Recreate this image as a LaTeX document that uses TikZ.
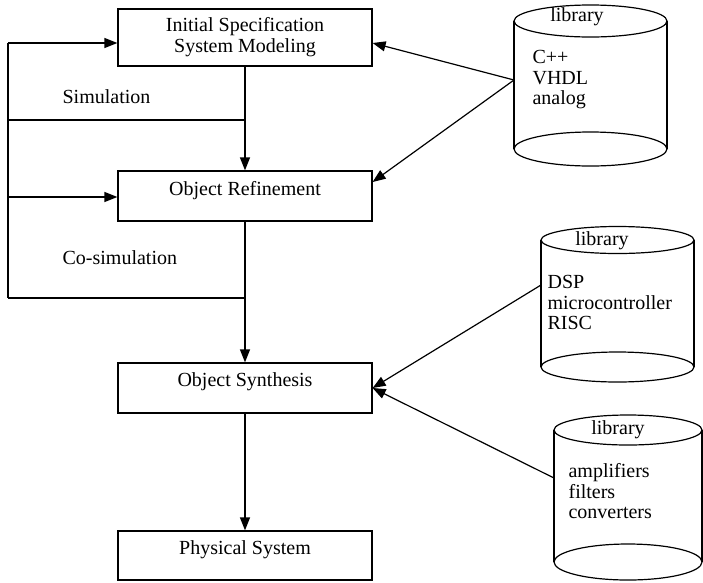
\documentclass[tikz,border=0pt]{standalone}
\usepackage{fontspec}
\setmainfont{Liberation Serif}
\usetikzlibrary{arrows.meta}
\begin{document}
\begin{tikzpicture}[x=1pt,y=-1pt,line width=1.2pt,
  box/.style={draw,minimum width=254pt,minimum height=50pt,inner sep=0pt,align=center,font=\fontsize{20}{21}\selectfont},
  lowtext/.style={text depth=16pt},
  arr/.style={-{Triangle[length=13pt,width=10pt]}},
  lbl/.style={inner sep=0pt,font=\fontsize{20}{21}\selectfont},
  libtxt/.style={inner sep=0pt,align=left,anchor=north west,font=\fontsize{20}{20.5}\selectfont},
  libhead/.style={inner sep=0pt,font=\fontsize{20}{21}\selectfont}]
\useasboundingbox (0,0) rectangle (703,582);

% process boxes
\node[box,minimum height=57pt] (spec) at (245,37.5) {Initial Specification\\System Modeling};
\node[box,lowtext] (refine) at (245,196) {Object Refinement};
\node[box,lowtext] (synth) at (245,388) {Object Synthesis};
\node[box,lowtext,minimum height=49pt] (phys) at (245,555.5) {Physical System};

% main flow
\draw[arr] (spec.south) -- (refine.north);
\draw[arr] (refine.south) -- (synth.north);
\draw[arr] (synth.south) -- (phys.north);

% feedback loops
\coordinate (L1) at (8,43);
\coordinate (L2) at (8,120);
\coordinate (L3) at (8,197);
\coordinate (L4) at (8,298);
\draw (L1) -- (L4);
\draw[arr] (L1) -- (L1 -| spec.west);
\draw[arr] (L3) -- (L3 -| refine.west);
\draw (L2) -- (L2 -| spec.south);
\draw (L4) -- (L4 -| refine.south);
\node[lbl,anchor=west] (simlbl) at (62,97) {Simulation};
\node[lbl,anchor=west] (cosimlbl) at (62,258) {Co-simulation};

% library 1
\draw (590.5,21) ellipse [x radius=76.5,y radius=16];
\draw (590.5,149) ellipse [x radius=76.5,y radius=17];
\draw (514,21) -- (514,149);
\draw (667,21) -- (667,149);
\node[libhead] (lib1h) at (577,17) {library};
\node[libtxt] (lib1t) at (532,50) {C++\\VHDL\\analog};
\coordinate (lib1p) at (514,80);

% library 2
\draw (617.5,240) ellipse [x radius=76.5,y radius=13.5];
\draw (617.5,367) ellipse [x radius=76.5,y radius=15];
\draw (541,240) -- (541,367);
\draw (694,240) -- (694,367);
\node[libhead] (lib2h) at (602,241) {library};
\node[libtxt] (lib2t) at (547,275) {DSP\\microcontroller\\RISC};
\coordinate (lib2p) at (541,285);

% library 3
\draw (628,430) ellipse [x radius=74,y radius=15];
\draw (628,562) ellipse [x radius=74,y radius=18];
\draw (554,430) -- (554,562);
\draw (702,430) -- (702,562);
\node[libhead] (lib3h) at (618,430) {library};
\node[libtxt] (lib3t) at (568,463) {amplifiers\\filters\\converters};
\coordinate (lib3p) at (554,478);

% library connectors
\draw[arr] (lib1p) -- ([yshift=-5.5pt]spec.east);
\draw[arr] (lib1p) -- ([yshift=14pt]refine.east);
\draw[arr] (lib2p) -- (synth.east);
\draw[arr] (lib3p) -- (synth.east);
\end{tikzpicture}
\end{document}
